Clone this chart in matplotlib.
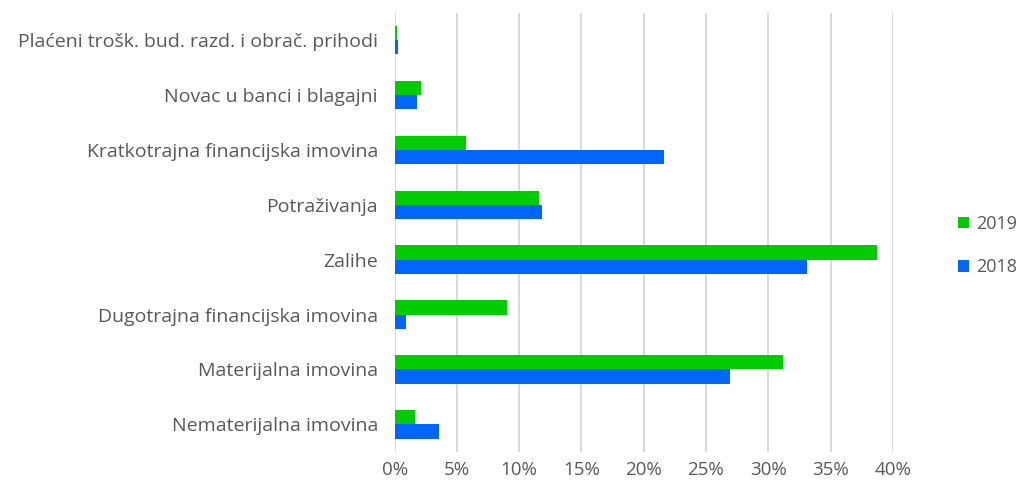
import numpy as np
import matplotlib.pyplot as plt
from matplotlib.ticker import FuncFormatter

# categories listed bottom to top
categories = [
    'Nematerijalna imovina',
    'Materijalna imovina',
    'Dugotrajna financijska imovina',
    'Zalihe',
    'Potraživanja',
    'Kratkotrajna financijska imovina',
    'Novac u banci i blagajni',
    'Plaćeni trošk. bud. razd. i obrač. prihodi',
]
share_2019 = [1.6, 31.2, 9.0, 38.7, 11.6, 5.7, 2.1, 0.2]
share_2018 = [3.6, 26.9, 0.9, 33.1, 11.8, 21.6, 1.8, 0.3]

plt.rcParams['font.family'] = ['Open Sans', 'DejaVu Sans']
text_col = '#595959'

fig = plt.figure(figsize=(10.25, 4.91), dpi=100)
ax = fig.add_axes([0.385, 0.08, 0.486, 0.894])

y = np.arange(len(categories))
h = 0.26
b19 = ax.barh(y + h / 2, share_2019, height=h, color='#00CC00', label='2019')
b18 = ax.barh(y - h / 2, share_2018, height=h, color='#0066FF', label='2018')

ax.set_xlim(0, 40)
ax.set_ylim(-0.5, len(categories) - 0.5)
ax.set_xticks(np.arange(0, 41, 5))
ax.xaxis.set_major_formatter(FuncFormatter(lambda v, p: f'{v:.0f}%'))
ax.set_yticks(y)
ax.set_yticklabels(categories)
ax.grid(axis='x', color='#D9D9D9', linewidth=1.4)
ax.set_axisbelow(True)
for s in ax.spines.values():
    s.set_visible(False)
ax.tick_params(length=0, labelsize=14, colors=text_col)
ax.tick_params(axis='y', pad=12)
ax.tick_params(axis='x', pad=7, labelsize=13.5)

fig.legend(handles=[b19, b18], loc='center left', bbox_to_anchor=(0.935, 0.5),
           frameon=False, fontsize=13, labelcolor=text_col, handlelength=0.6,
           handleheight=0.6, handletextpad=0.4, labelspacing=1.4,
           borderpad=0, borderaxespad=0)

fig.savefig('out.png', dpi=100)
